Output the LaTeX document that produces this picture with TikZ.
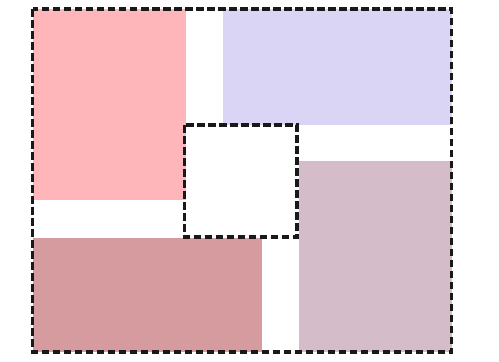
\documentclass[tikz,border=0pt]{standalone}
\usepackage{tikz}
\usetikzlibrary{backgrounds}
\definecolor{rosepink}{RGB}{255,182,187}
\definecolor{lavender}{RGB}{218,213,245}
\definecolor{dustyrose}{RGB}{214,155,158}
\definecolor{lightmauve}{RGB}{212,188,200}
\tikzstyle{block} = [draw=none]
\tikzstyle{border} = [draw=black!90, line width=3.2pt, dash pattern=on 7.5pt off 3.5pt]
\begin{document}
\begin{tikzpicture}[x=1pt, y=-1pt]
        \useasboundingbox (0,0) rectangle (499,362);
        % coloured blocks
        \fill [block, rosepink] (33,9) rectangle (185.5,200);
        \fill [block, lavender] (222.5,9) rectangle (452,124.5);
        \fill [block, dustyrose] (33,237.5) rectangle (262,352);
        \fill [block, lightmauve] (298.5,161) rectangle (452,352);
        % dashed frames
        \draw [border] (184.5,125) rectangle (297,237);
        \draw [border] (32.5,9) rectangle (451.5,352);
\end{tikzpicture}
\end{document}
